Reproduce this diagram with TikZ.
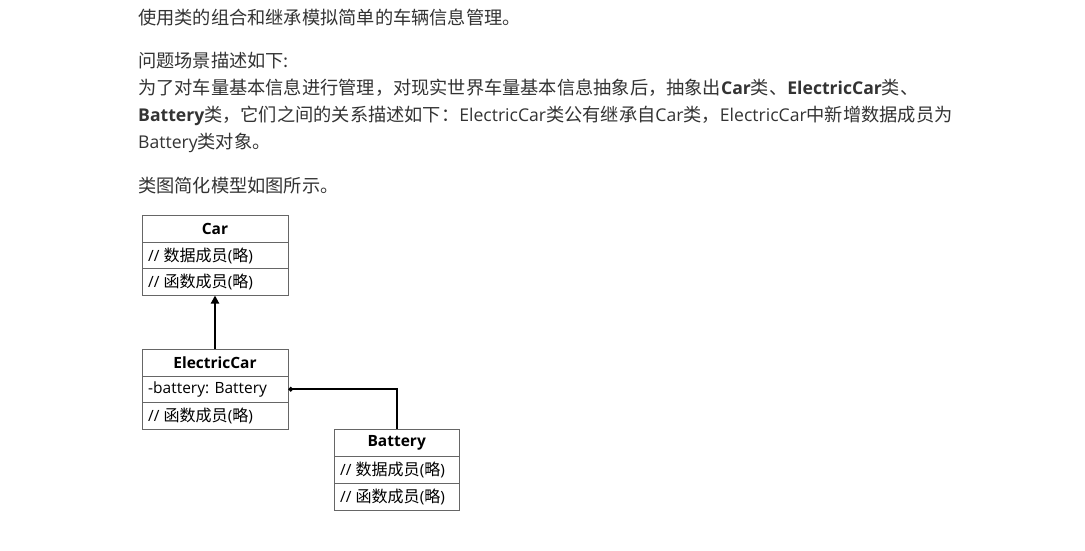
\documentclass[tikz,border=0pt]{standalone}
\usepackage{fontspec}
\setmainfont{Open Sans}
\newfontfamily\cjkfont[Scale=1.035]{Noto Sans CJK SC}
\newcommand\zh[1]{{\cjkfont #1}}
\usetikzlibrary{arrows.meta}
\definecolor{txt}{HTML}{333333}
\definecolor{bord}{HTML}{666666}
\tikzset{
  x=1pt, y=-1pt,
  para/.style={anchor=base west, inner sep=0pt, text=txt, font=\fontsize{17.6}{20}\selectfont},
  umlbox/.style={draw=bord, line width=1pt, inner sep=0pt},
  title/.style={inner sep=0pt, text=black, font=\fontsize{15.5}{18}\selectfont\bfseries},
  member/.style={anchor=west, inner sep=0pt, text=black, font=\fontsize{15.5}{18}\selectfont},
  conn/.style={line width=2pt, black},
}
\begin{document}
\begin{tikzpicture}
\useasboundingbox[fill=white] (0,0) rectangle (1085,551);
% paragraph text
\node[para] (l1) at (138,24.5) {\zh{使用类的组合和继承模拟简单的车辆信息管理。}};
\node[para] (l2) at (138,67.5) {\zh{问题场景描述如下:}};
\node[para] (l3) at (138,94.5) {\zh{为了对车量基本信息进行管理，对现实世界车量基本信息抽象后，抽象出}\textbf{Car}\zh{类、}\textbf{ElectricCar}\zh{类、}};
\node[para] (l4) at (138,121.5) {\textbf{Battery}\zh{类，它们之间的关系描述如下：}ElectricCar\zh{类公有继承自}Car\zh{类，}ElectricCar\zh{中新增数据成员为}};
\node[para] (l5) at (138,148.5) {Battery\zh{类对象。}};
\node[para] (l6) at (138,192.5) {\zh{类图简化模型如图所示。}};
% Car box
\node[umlbox, minimum width=146pt, minimum height=80pt] (car) at (215,255) {};
\draw[bord, line width=1pt] (142,242) -- (288,242) (142,268.5) -- (288,268.5);
\node[title] (cart) at (215,228.5) {Car};
\node[member] (car1) at (148,255.5) {// \zh{数据成员}(\zh{略})};
\node[member] (car2) at (148,282) {// \zh{函数成员}(\zh{略})};
% ElectricCar box
\node[umlbox, minimum width=146pt, minimum height=80pt] (ecar) at (215,389.3) {};
\draw[bord, line width=1pt] (142,376) -- (288,376) (142,402.7) -- (288,402.7);
\node[title] (ecart) at (215,362.7) {ElectricCar};
\node[member] (ecar1) at (148,389.3) {-battery: Battery};
\node[member] (ecar2) at (148,416) {// \zh{函数成员}(\zh{略})};
% Battery box
\node[umlbox, minimum width=125.3pt, minimum height=80.7pt] (bat) at (396.7,469.7) {};
\draw[bord, line width=1pt] (334,456.7) -- (459.3,456.7) (334,483.3) -- (459.3,483.3);
\node[title] (batt) at (396.7,443) {Battery};
\node[member] (bat1) at (340,470) {// \zh{数据成员}(\zh{略})};
\node[member] (bat2) at (340,496.7) {// \zh{函数成员}(\zh{略})};
% connectors
\coordinate (ecarright) at (ecar.east |- ecar1);
\draw[conn, -{Triangle[length=8pt,width=8pt]}] (ecar.north) -- (car.south);
\draw[conn, {Circle[length=4.5pt]}-] (ecarright) -| (bat.north);
\end{tikzpicture}
\end{document}
